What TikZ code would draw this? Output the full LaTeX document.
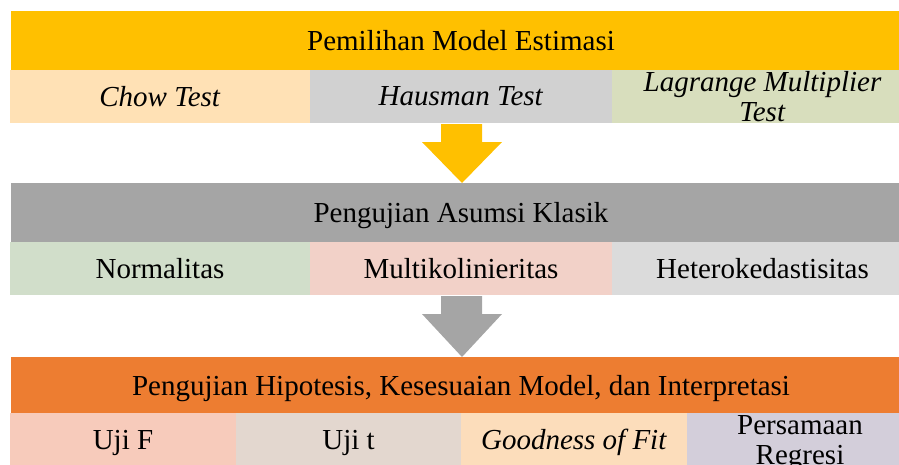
\documentclass[tikz,border=0pt]{standalone}
\usepackage{fontspec}
\setmainfont{Liberation Serif}
\definecolor{cTopBar}{HTML}{FFC000}
\definecolor{cChow}{HTML}{FFE1B5}
\definecolor{cHaus}{HTML}{D1D1D1}
\definecolor{cLM}{HTML}{D8DEBD}
\definecolor{cMidBar}{HTML}{A5A5A5}
\definecolor{cNorm}{HTML}{D1DECA}
\definecolor{cMulti}{HTML}{F2D1C8}
\definecolor{cHetero}{HTML}{DBDBDB}
\definecolor{cBotBar}{HTML}{ED7D31}
\definecolor{cUjiF}{HTML}{F7CBBB}
\definecolor{cUjit}{HTML}{E3D7CF}
\definecolor{cGood}{HTML}{FCDDBB}
\definecolor{cPers}{HTML}{D3CEDA}
\tikzset{
  box/.style={anchor=north west, inner sep=0pt, outer sep=0pt, align=center,
    font=\fontsize{29}{29}\selectfont, text depth=0pt},
  bar/.style={box, minimum width=900pt, minimum height=59pt},
  cell/.style={box, minimum height=53pt}
}
\begin{document}
\begin{tikzpicture}[x=1pt,y=-1pt]
\useasboundingbox (0,0) rectangle (899,464);
\clip (0,0) rectangle (899,464);
% section 1
\node[bar, fill=cTopBar] (t1) at (11,11) {Pemilihan Model Estimasi};
\node[cell, fill=cChow, minimum width=300pt] (chow) at (10,70) {\textit{Chow Test}};
\node[cell, fill=cHaus, minimum width=302pt] (haus) at (310,70) {\textit{Hausman Test}};
\node[cell, fill=cLM, minimum width=301pt] (lm) at (612,70) {\textit{Lagrange Multiplier}\\[1pt]\textit{Test}};
% arrow 1
\fill[cTopBar] (441,124) -- (482,124) -- (482,142) -- (502,142) -- (462,183) -- (422,142) -- (441,142) -- cycle;
% section 2
\node[bar, fill=cMidBar] (t2) at (11,183) {Pengujian Asumsi Klasik};
\node[cell, fill=cNorm, minimum width=300pt] (norm) at (10,242) {Normalitas};
\node[cell, fill=cMulti, minimum width=302pt] (multi) at (310,242) {Multikolinieritas};
\node[cell, fill=cHetero, minimum width=301pt] (hetero) at (612,242) {Heterokedastisitas};
% arrow 2
\fill[cMidBar] (441,296) -- (482,296) -- (482,314) -- (502,314) -- (462,357) -- (422,314) -- (441,314) -- cycle;
% section 3
\node[bar, fill=cBotBar, minimum height=56pt] (t3) at (11,357) {Pengujian Hipotesis, Kesesuaian Model, dan Interpretasi};
\node[cell, fill=cUjiF, minimum width=226pt] (ujif) at (10,413) {Uji F};
\node[cell, fill=cUjit, minimum width=225pt] (ujit) at (236,413) {Uji t};
\node[cell, fill=cGood, minimum width=226pt] (good) at (461,413) {\textit{Goodness of Fit}};
\node[cell, fill=cPers, minimum width=226pt] (pers) at (687,413) {Persamaan\\[1pt]Regresi};
\end{tikzpicture}
\end{document}
